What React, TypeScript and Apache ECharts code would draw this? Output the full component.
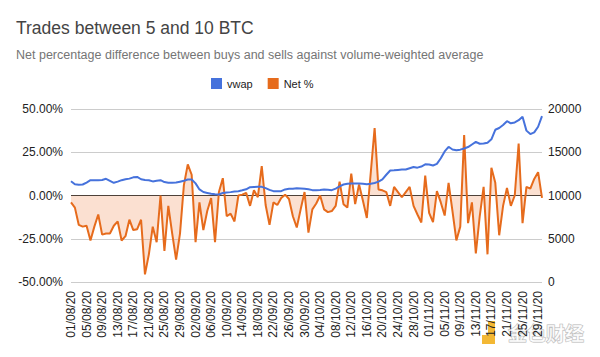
import React, { useEffect, useRef } from "react";
import * as echarts from "echarts";

// Category range: daily from 01/08/20 to 30/11/20 (122 days)
const START_DATE = [2020, 7, 1]; // year, monthIndex, day
const DAY_COUNT = 122;

const netPct: number[] = [
  -4, -7, -17, -18, -17.5, -26, -18, -11, -22.6, -22,
  -22, -17.5, -15, -26, -23.5, -14, -20, -19.5, -14, -45.6,
  -34, -18, -27, 0, -32, -6, -22, -37, -22, 6,
  18, 12, -27, -4, -20, -9, -1.5, -27, 2, 10,
  -12, -10.5, -15, 0, 0.5, 1.5, -6, 3, -1, 17,
  -5.5, -17, -4, -5.5, -1.5, 0.5, -2, -12, -18.5, -8,
  2, -21.5, -8, -4.6, 0, -8, -9.6, -9, -6, 8,
  -5, -7, 12.7, -5, 6.4, -3, -13, 13, 39, 3.5,
  3, 2, -6, 5, 2, -1, 2, 5, -6, -11,
  -15.6, 11.5, -10, -15.4, 2.5, -4, -11.6, 7.3, -9, -26,
  -18, 35, -16, -4, -33.5, -12, 5, -34, 16, 7.3,
  -23, -6, 4.4, -6, 0, 30, -16, 5, 4, 9.6,
  13.5, -1.4,
];

const vwap: number[] = [
  11650, 11300, 11250, 11270, 11500, 11770, 11760, 11750, 11800, 11930,
  11700, 11470, 11600, 11770, 11880, 11950, 12100, 12150, 11880, 11800,
  11770, 11630, 11700, 11770, 11550, 11470, 11470, 11500, 11600, 11700,
  11850, 11850, 11400, 10700, 10400, 10300, 10200, 10150, 10120, 10300,
  10350, 10390, 10450, 10500, 10600, 10720, 10960, 10990, 11000, 11000,
  10850, 10650, 10500, 10500, 10500, 10700, 10770, 10770, 10850, 10820,
  10770, 10720, 10620, 10620, 10640, 10690, 10660, 10620, 10800, 11050,
  11270, 11350, 11390, 11390, 11390, 11350, 11310, 11370, 11450, 11600,
  11870, 12400, 12890, 12920, 12960, 13000, 13000, 13150, 13290, 13220,
  13350, 13600, 13580, 13470, 13650, 14300, 15100, 15630, 15320, 15240,
  15300, 15430, 15600, 15900, 16200, 15980, 16000, 16100, 16500, 17600,
  17800, 18150, 18590, 18350, 18450, 18700, 19100, 17500, 17100, 17300,
  17950, 19170,
];

const leftTicks = { min: -50, max: 50, interval: 25 };
const rightTicks = { min: 0, max: 20000, interval: 5000 };

const TITLE = "Trades between 5 and 10 BTC";
const SUBTITLE = "Net percentage difference between buys and sells against volume-weighted average";

function buildDates(): string[] {
  const out: string[] = [];
  const d = new Date(START_DATE[0], START_DATE[1], START_DATE[2]);
  for (let i = 0; i < DAY_COUNT; i++) {
    const dd = String(d.getDate()).padStart(2, "0");
    const mm = String(d.getMonth() + 1).padStart(2, "0");
    const yy = String(d.getFullYear() % 100).padStart(2, "0");
    out.push(`${dd}/${mm}/${yy}`);
    d.setDate(d.getDate() + 1);
  }
  return out;
}

const FONT = "'Liberation Sans', Arial, sans-serif";

export default function App() {
  const ref = useRef<HTMLDivElement>(null);
  useEffect(() => {
    if (!ref.current) return;
    const chart = echarts.init(ref.current, undefined, { renderer: "svg" });
    const dates = buildDates();
    chart.setOption({
      animation: false,
      backgroundColor: "#ffffff",
      textStyle: { fontFamily: FONT },
      title: [
        {
          text: TITLE,
          left: 16,
          top: 19,
          padding: 0,
          textStyle: { fontSize: 17.5, fontWeight: "normal", color: "#444444", fontFamily: FONT },
        },
        {
          text: SUBTITLE,
          left: 16,
          top: 48,
          padding: 0,
          textStyle: { fontSize: 12.5, fontWeight: "normal", color: "#757575", fontFamily: FONT },
        },
      ],
      legend: {
        top: 78,
        left: 211,
        padding: 0,
        itemWidth: 11,
        itemHeight: 11,
        itemGap: 15,
        icon: "rect",
        textStyle: { fontSize: 11, color: "#222222", fontFamily: FONT },
        data: ["vwap", "Net %"],
      },
      grid: { left: 71, right: 58, top: 109, bottom: 75 },
      xAxis: {
        type: "category",
        data: dates,
        boundaryGap: false,
        axisLine: { show: false },
        axisTick: { show: false },
        axisLabel: {
          interval: 3,
          rotate: 90,
          fontSize: 12,
          color: "#222222",
          margin: 9,
          fontFamily: FONT,
        },
        splitLine: { show: false },
      },
      yAxis: [
        {
          type: "value",
          ...leftTicks,
          position: "left",
          axisLine: { show: false },
          axisTick: { show: false },
          axisLabel: {
            formatter: (v: number) => `${v.toFixed(2)}%`,
            fontSize: 12,
            color: "#222222",
            margin: 8,
            fontFamily: FONT,
          },
          splitLine: {
            show: true,
            lineStyle: { color: ["#cccccc", "#cccccc", "#333333", "#cccccc", "#cccccc"], width: 1 },
          },
        },
        {
          type: "value",
          ...rightTicks,
          position: "right",
          axisLine: { show: false },
          axisTick: { show: false },
          axisLabel: {
            formatter: (v: number) => String(v),
            fontSize: 12,
            color: "#222222",
            margin: 6,
            fontFamily: FONT,
          },
          splitLine: { show: false },
        },
      ],
      series: [
        {
          name: "vwap",
          type: "line",
          yAxisIndex: 1,
          data: vwap,
          showSymbol: false,
          symbol: "none",
          lineStyle: { color: "#4672dc", width: 2 },
          itemStyle: { color: "#4672dc" },
          z: 3,
        },
        {
          name: "Net %",
          type: "line",
          yAxisIndex: 0,
          data: netPct,
          showSymbol: false,
          symbol: "none",
          lineStyle: { color: "#e66b1c", width: 2 },
          itemStyle: { color: "#e66b1c" },
          areaStyle: { color: "rgba(240,150,100,0.42)", origin: 0 },
          z: 2,
        },
      ],
      graphic: [
        {
          type: "group",
          left: 482,
          top: 321,
          silent: true,
          children: [
            { type: "rect", shape: { x: 0, y: 14, width: 13, height: 9 }, style: { fill: "#f2b01e", opacity: 0.9 } },
            { type: "rect", shape: { x: 6, y: 0, width: 7, height: 14 }, style: { fill: "#f2b01e", opacity: 0.9 } },
            {
              type: "text",
              x: 26,
              y: 2,
              style: {
                text: "金色财经",
                font: "bold 19px 'Noto Sans CJK SC'",
                fill: "rgba(255,255,255,0.75)",
                stroke: "#b5b5b5",
                lineWidth: 1,
              },
            },
          ],
        },
      ],
    });
    return () => chart.dispose();
  }, []);
  return <div ref={ref} style={{ width: 600, height: 357, position: "absolute", left: 0, top: 0 }} />;
}
